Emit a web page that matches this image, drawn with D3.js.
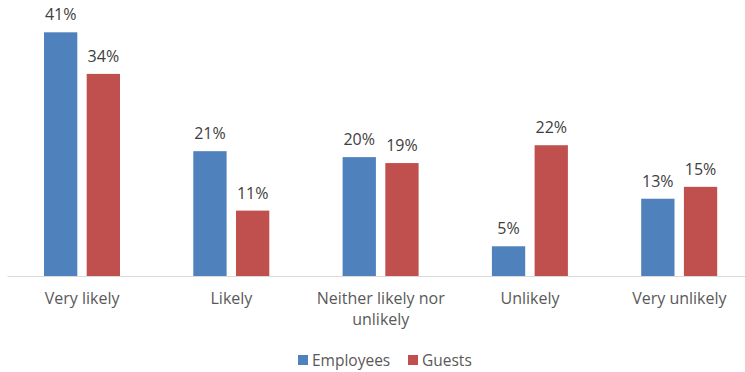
<!DOCTYPE html>
<html>
<head>
<meta charset="utf-8">
<script src="https://cdn.jsdelivr.net/npm/d3@7"></script>
<style>
  html, body { margin: 0; padding: 0; background: #fff; }
  svg { display: block; font-family: "Open Sans", "Liberation Sans", sans-serif; }
</style>
</head>
<body>
<svg id="chart" width="745" height="372"></svg>
<script>
// Survey responses by group (percent)
const categories = ["Very likely", "Likely", "Neither likely nor unlikely", "Unlikely", "Very unlikely"];
const categoryLines = [["Very likely"], ["Likely"], ["Neither likely nor", "unlikely"], ["Unlikely"], ["Very unlikely"]];
const seriesNames = ["Employees", "Guests"];
const employees = [41, 21, 20, 5, 13];
const guests = [34, 11, 19, 22, 15];
const colors = ["#4F81BD", "#C0504D"];

const svg = d3.select("#chart");
const baseY = 276;

const x0 = d3.scaleBand().domain(categories).range([7.5, 754]).paddingInner(0).paddingOuter(0);
const x1 = d3.scaleBand().domain(seriesNames).range([36.5, 112.5]).paddingInner(0.22);
const y = d3.scaleLinear().domain([0, 41]).range([baseY, 32.3]);

const rows = categories.map((c, i) => ({ cat: c, values: [employees[i], guests[i]] }));

const groups = svg.selectAll("g.cat").data(rows).join("g")
  .attr("class", "cat")
  .attr("transform", d => `translate(${x0(d.cat)},0)`);

groups.selectAll("rect").data(d => d.values.map((v, j) => ({ s: seriesNames[j], v, j })))
  .join("rect")
  .attr("x", d => x1(d.s))
  .attr("y", d => y(d.v))
  .attr("width", x1.bandwidth())
  .attr("height", d => baseY - y(d.v))
  .attr("fill", d => colors[d.j]);

groups.selectAll("text.val").data(d => d.values.map((v, j) => ({ s: seriesNames[j], v, j })))
  .join("text")
  .attr("class", "val")
  .attr("x", d => x1(d.s) + x1.bandwidth() / 2)
  .attr("y", d => y(d.v) - 12)
  .attr("text-anchor", "middle")
  .attr("font-size", 16)
  .attr("fill", "#404040")
  .text(d => d.v + "%");

// category axis
svg.append("line")
  .attr("x1", 7.5).attr("x2", 745)
  .attr("y1", baseY + 0.5).attr("y2", baseY + 0.5)
  .attr("stroke", "#D9D9D9").attr("stroke-width", 1);

categories.forEach((c, i) => {
  const t = svg.append("text")
    .attr("x", x0(c) + x0.bandwidth() / 2)
    .attr("y", 304)
    .attr("text-anchor", "middle")
    .attr("font-size", 16)
    .attr("fill", "#595959");
  categoryLines[i].forEach((line, k) => {
    t.append("tspan")
      .attr("x", x0(c) + x0.bandwidth() / 2)
      .attr("dy", k === 0 ? 0 : 21)
      .text(line);
  });
});

// legend
const legendItems = [{ name: "Employees", x: 298 }, { name: "Guests", x: 408 }];
legendItems.forEach((item, i) => {
  svg.append("rect")
    .attr("x", item.x).attr("y", 355)
    .attr("width", 10).attr("height", 10)
    .attr("fill", colors[i]);
  svg.append("text")
    .attr("x", item.x + 14).attr("y", 366)
    .attr("font-size", 15.5)
    .attr("fill", "#595959")
    .text(item.name);
});
</script>
</body>
</html>
